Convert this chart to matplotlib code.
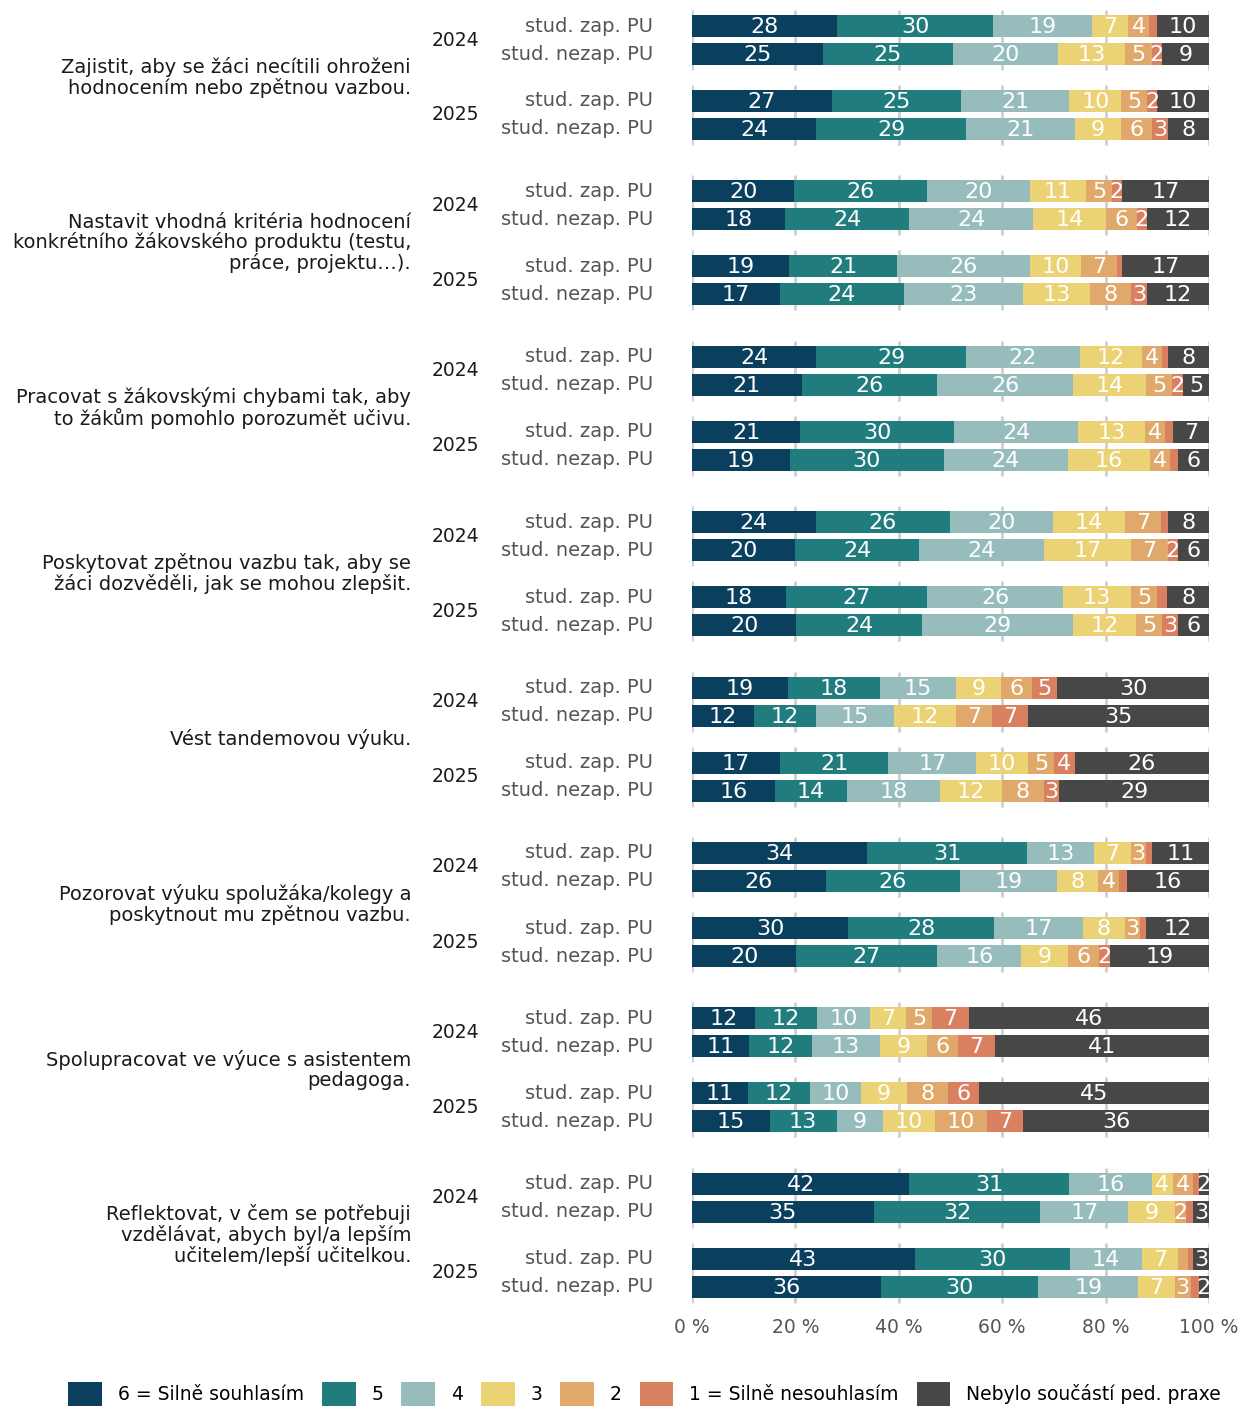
import matplotlib.pyplot as plt
import matplotlib.transforms as mtransforms
from matplotlib.patches import Patch
import numpy as np

plt.rcParams['font.family'] = ['DejaVu Sans']

groups = [
    "Zajistit, aby se žáci necítili ohroženi\nhodnocením nebo zpětnou vazbou.",
    "Nastavit vhodná kritéria hodnocení\nkonkrétního žákovského produktu (testu,\npráce, projektu…).",
    "Pracovat s žákovskými chybami tak, aby\nto žákům pomohlo porozumět učivu.",
    "Poskytovat zpětnou vazbu tak, aby se\nžáci dozvěděli, jak se mohou zlepšit.",
    "Vést tandemovou výuku.",
    "Pozorovat výuku spolužáka/kolegy a\nposkytnout mu zpětnou vazbu.",
    "Spolupracovat ve výuce s asistentem\npedagoga.",
    "Reflektovat, v čem se potřebuji\nvzdělávat, abych byl/a lepším\nučitelem/lepší učitelkou.",
]
years = ["2024", "2025"]
row_labels = ["stud. zap. PU", "stud. nezap. PU"]

categories = ["6 = Silně souhlasím", "5", "4", "3", "2", "1 = Silně nesouhlasím",
              "Nebylo součástí ped. praxe"]
colors = ["#0b3f5e", "#217c7e", "#97bcbc", "#ebd274", "#e0a96b", "#d8805f", "#474747"]

# one value per row, order: group -> year -> (zap, nezap)
s6 = [28, 25, 27, 24, 20, 18, 19, 17, 24, 21, 21, 19, 24, 20, 18, 20,
      19, 12, 17, 16, 34, 26, 30, 20, 12, 11, 11, 15, 42, 35, 43, 36]
s5 = [30, 25, 25, 29, 26, 24, 21, 24, 29, 26, 30, 30, 26, 24, 27, 24,
      18, 12, 21, 14, 31, 26, 28, 27, 12, 12, 12, 13, 31, 32, 30, 30]
s4 = [19, 20, 21, 21, 20, 24, 26, 23, 22, 26, 24, 24, 20, 24, 26, 29,
      15, 15, 17, 18, 13, 19, 17, 16, 10, 13, 10, 9, 16, 17, 14, 19]
s3 = [7, 13, 10, 9, 11, 14, 10, 13, 12, 14, 13, 16, 14, 17, 13, 12,
      9, 12, 10, 12, 7, 8, 8, 9, 7, 9, 9, 10, 4, 9, 7, 7]
s2 = [4, 5, 5, 6, 5, 6, 7, 8, 4, 5, 4, 4, 7, 7, 5, 5,
      6, 7, 5, 8, 3, 4, 3, 6, 5, 6, 8, 10, 4, 2, 1.8, 3]
s1 = [1.5, 2, 2, 3, 2, 2, 1, 3, 1, 2, 1.5, 1.5, 1.3, 2, 1.9, 3,
      5, 7, 4, 3, 1.2, 1.5, 1.2, 2, 7, 7, 6, 7, 1, 1.5, 1.1, 1.5]
sna = [10, 9, 10, 8, 17, 12, 17, 12, 8, 5, 7, 6, 8, 6, 8, 6,
       30, 35, 26, 29, 11, 16, 12, 19, 46, 41, 45, 36, 2, 3, 3, 2]

series = [s6, s5, s4, s3, s2, s1, sna]

W, H = 1240, 1409
fig = plt.figure(figsize=(W / 100, H / 100), dpi=100)
ax = fig.add_axes([692 / W, 1 - 1310 / H, 517 / W, 1310 / H])
ax.set_xlim(0, 100)
ax.set_ylim(1310, 0)

# layout of rows (in pixel-like units)
pitch = 165.4
offsets = [0, 28, 75, 103]
ypos = []
for g in range(len(groups)):
    for o in offsets:
        ypos.append(26 + g * pitch + o)
ypos = np.array(ypos)
bar_h = 22

vals = np.array(series, dtype=float)
totals = vals.sum(axis=0)
widths = vals / totals * 100

# gridlines per year panel
for p in range(len(groups) * 2):
    top = ypos[p * 2] - 16
    bot = ypos[p * 2 + 1] + 16
    ax.vlines([0, 20, 40, 60, 80, 100], top, bot, color="#cfcfcf", lw=2, zorder=0)

left = np.zeros(len(ypos))
for k in range(len(series)):
    ax.barh(ypos, widths[k], left=left, height=bar_h, color=colors[k],
            label=categories[k], zorder=2)
    for i in range(len(ypos)):
        v = vals[k][i]
        if v >= 2:
            ax.text(left[i] + widths[k][i] / 2, ypos[i] + 1, str(int(round(v))),
                    ha="center", va="center", color="white", fontsize=16,
                    zorder=3)
    left += widths[k]

ax.set_xticks([0, 20, 40, 60, 80, 100])
ax.set_xticklabels(["0 %", "20 %", "40 %", "60 %", "80 %", "100 %"],
                   fontsize=13.5, color="#555555")
ax.tick_params(axis="x", length=0, pad=6)
ax.set_yticks([])
for s in ax.spines.values():
    s.set_visible(False)

tr = mtransforms.blended_transform_factory(fig.transFigure, ax.transData)
for g, name in enumerate(groups):
    base = g * 4
    gc = (ypos[base] + ypos[base + 3]) / 2
    fig.text(411 / W, gc, name, transform=tr, ha="right", va="center",
             fontsize=14, color="#1a1a1a", linespacing=1.05)
    for yi, yr in enumerate(years):
        a = ypos[base + yi * 2]
        b = ypos[base + yi * 2 + 1]
        fig.text(455 / W, (a + b) / 2, yr, transform=tr, ha="center", va="center",
                 fontsize=13.5, color="#1a1a1a")
        for ri, rl in enumerate(row_labels):
            fig.text(653 / W, [a, b][ri], rl, transform=tr, ha="right", va="center",
                     fontsize=14, color="#555555")

handles = [Patch(facecolor=c, label=l) for c, l in zip(colors, categories)]
fig.legend(handles=handles, loc="lower center", bbox_to_anchor=(0.52, -0.006),
           ncol=7, frameon=False, fontsize=13.5, handlelength=1.8, handleheight=1.6,
           handletextpad=0.85, columnspacing=0.95, borderaxespad=0.2)

fig.savefig("out.png", dpi=100)
